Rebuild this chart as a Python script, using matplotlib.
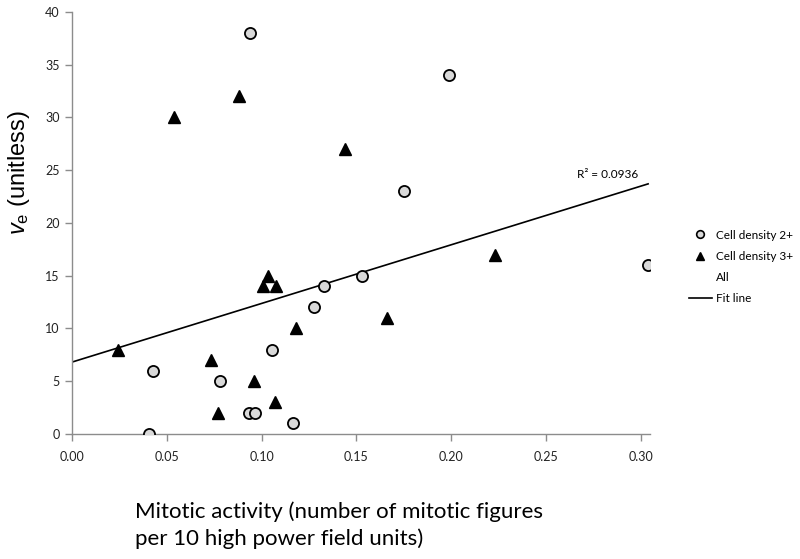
import matplotlib
matplotlib.use("Agg")
import matplotlib.pyplot as plt
from matplotlib.lines import Line2D
import numpy as np

# cell density 2+ (open circles)
density2_x = [0.094, 0.199, 0.175, 0.304, 0.153, 0.133, 0.1275, 0.1055,
              0.0426, 0.078, 0.0935, 0.0967, 0.1164, 0.0408]
density2_y = [38, 34, 23, 16, 15, 14, 12, 8, 6, 5, 2, 2, 1, 0]

# cell density 3+ (filled triangles)
density3_x = [0.0539, 0.0879, 0.1442, 0.223, 0.166, 0.1032, 0.1007, 0.1078,
              0.118, 0.0245, 0.0733, 0.0963, 0.1072, 0.0773]
density3_y = [30, 32, 27, 17, 11, 15, 14, 14, 10, 8, 7, 5, 3, 2]

r2_label = "R² = 0.0936"
x_ticks = [0.00, 0.05, 0.10, 0.15, 0.20, 0.25, 0.30]
y_ticks = [0, 5, 10, 15, 20, 25, 30, 35, 40]

plt.rcParams["font.family"] = ["Lato", "DejaVu Sans"]
plt.rcParams["mathtext.fontset"] = "custom"
plt.rcParams["mathtext.rm"] = "Liberation Sans"
plt.rcParams["mathtext.it"] = "Liberation Sans:italic"

fig = plt.figure(figsize=(8.0, 5.59), dpi=100)
ax = fig.add_axes([0.09, 0.2236, 0.7225, 0.755])

# fit over all points
all_x = np.array(density2_x + density3_x)
all_y = np.array(density2_y + density3_y)
slope, intercept = np.polyfit(all_x, all_y, 1)
fit_x = np.array([0.0, max(all_x)])
ax.plot(fit_x, intercept + slope * fit_x, color="black", lw=1.2, zorder=2)

ax.plot(density2_x, density2_y, "o", ms=8, mfc="#d9d9d9", mec="black",
        mew=1.3, ls="none", zorder=3)
ax.plot(density3_x, density3_y, "^", ms=8.5, mfc="black", mec="black",
        ls="none", zorder=3)

ax.text(0.2826, 24.6, r2_label, fontsize=8.5, ha="center", va="center")

ax.set_xlim(0, 0.305)
ax.set_ylim(0, 40)
ax.set_xticks(x_ticks)
ax.set_xticklabels([f"{t:.2f}" for t in x_ticks])
ax.set_yticks(y_ticks)
for side in ("top", "right"):
    ax.spines[side].set_visible(False)
for side in ("left", "bottom"):
    ax.spines[side].set_color("#8c8c8c")
    ax.spines[side].set_linewidth(1.0)
ax.tick_params(colors="#8c8c8c", labelcolor="#222222", labelsize=9,
               length=5, width=1.0, direction="out")
ax.tick_params(axis="x", pad=7)
ax.tick_params(axis="y", pad=4)

ax.set_ylabel(r"$v_\mathrm{e}$ (unitless)", fontsize=17,
              family="Liberation Sans", labelpad=8)
ax.yaxis.set_label_coords(-0.07, 0.62)

fig.text(135 / 800, 1 - 512 / 559, "Mitotic activity (number of mitotic figures",
         fontsize=16, ha="left", va="center")
fig.text(135 / 800, 1 - 539 / 559, "per 10 high power field units)",
         fontsize=16, ha="left", va="center")

handles = [
    Line2D([], [], marker="o", ls="none", ms=5.5, mfc="#d9d9d9", mec="black", mew=1.2),
    Line2D([], [], marker="^", ls="none", ms=6, mfc="black", mec="black"),
    Line2D([], [], ls="none"),
    Line2D([], [], color="black", lw=1.2),
]
labels = ["Cell density 2+", "Cell density 3+", "All", "Fit line"]
fig.legend(handles, labels, loc="upper left", bbox_to_anchor=(678 / 800, 1 - 219 / 559),
           frameon=False, fontsize=8.5, handlelength=2.0, handletextpad=0.35,
           labelspacing=0.85)

fig.savefig("out.png", dpi=100)
